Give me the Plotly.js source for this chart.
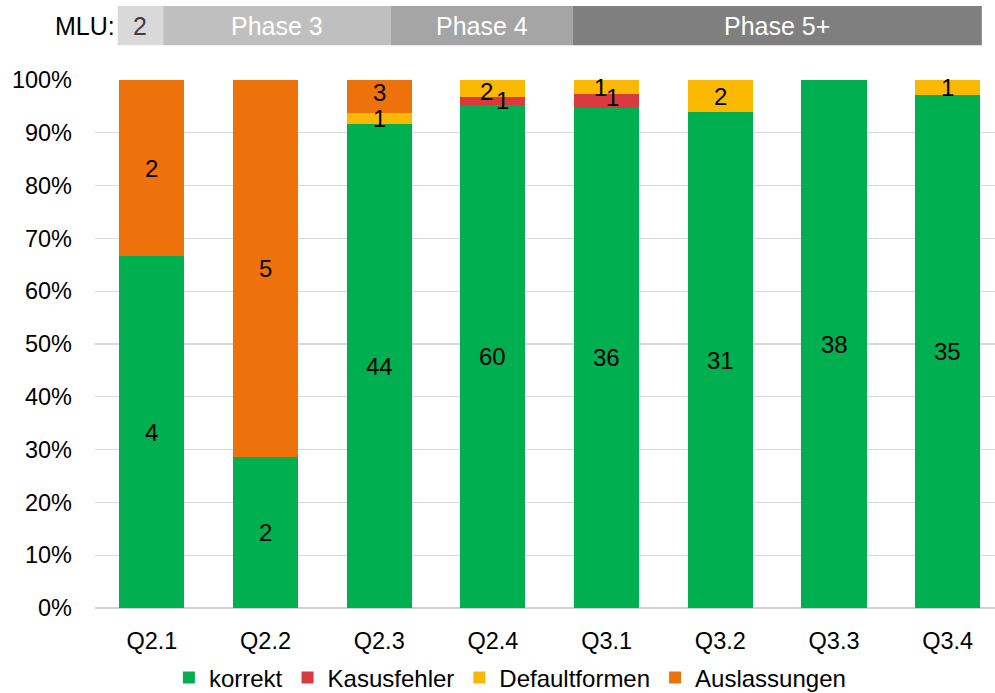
<!DOCTYPE html>
<html>
<head>
<meta charset="utf-8">
<script src="https://cdn.plot.ly/plotly-3.0.1.min.js"></script>
<style>html,body{margin:0;padding:0;background:#fff;}#chart{width:995px;height:693px;}</style>
</head>
<body>
<div id="chart"></div>
<script>
// Data
const categories = ['Q2.1','Q2.2','Q2.3','Q2.4','Q3.1','Q3.2','Q3.3','Q3.4'];
const seriesNames = ['korrekt','Kasusfehler','Defaultformen','Auslassungen'];
const korrekt       = [4, 2, 44, 60, 36, 31, 38, 35];
const kasusfehler   = [0, 0, 0, 1, 1, 0, 0, 0];
const defaultformen = [0, 0, 1, 2, 1, 2, 0, 1];
const auslassungen  = [2, 5, 3, 0, 0, 0, 0, 0];
const yTickVals   = [0, 10, 20, 30, 40, 50, 60, 70, 80, 90, 100];
const yTickLabels = ['0%','10%','20%','30%','40%','50%','60%','70%','80%','90%','100%'];
const phaseLabels = ['2','Phase 3','Phase 4','Phase 5+'];

// Layout / style constants (positions kept separate from data)
const phaseStart  = [-0.3, 0.1, 2.1, 3.7];
const phaseEnd    = [0.1, 2.1, 3.7, 7.3];
const colors = ['#00AF50','#D83A3F','#FBB800','#EE720C'];
const phaseFill = ['#D9D9D9','#BFBFBF','#A5A5A5','#7F7F7F'];
const phaseText = ['#404040','#FFFFFF','#FFFFFF','#FFFFFF'];
// per-series, per-category pixel nudges for crowded labels
const labelShiftX = [
  [0,0,0,0,0,0,0,0],
  [0,0,0,10,6,0,0,0],
  [0,0,0,-6,-6,0,0,0],
  [0,0,0,0,0,0,0,0]
];
const labelShiftY = [
  [0,0,0,0,0,0,0,0],
  [0,0,0,0,3,0,0,0],
  [0,0,0,-3,-1,0,0,0],
  [0,0,4,0,0,0,0,0]
];
const FONT = 'Liberation Sans, Arial, Helvetica, sans-serif';
const FS = 24;

const allSeries = [korrekt, kasusfehler, defaultformen, auslassungen];
const traces = allSeries.map((vals, i) => ({
  type: 'bar',
  name: seriesNames[i],
  x: categories,
  y: vals,
  marker: {color: colors[i], line: {width: 0}},
  hoverinfo: 'skip'
}));

const shapes = phaseLabels.map((l, i) => ({
  type: 'rect', xref: 'x', yref: 'paper',
  x0: phaseStart[i], x1: phaseEnd[i], y0: 1.066, y1: 1.140,
  fillcolor: phaseFill[i], line: {width: 0}, layer: 'above'
}));

const annotations = phaseLabels.map((l, i) => ({
  xref: 'x', yref: 'paper',
  x: (phaseStart[i] + phaseEnd[i]) / 2, y: 1.103,
  text: l, showarrow: false, xanchor: 'center', yanchor: 'middle',
  font: {family: FONT, size: 25, color: phaseText[i]}
}));
annotations.push({
  xref: 'paper', yref: 'paper', x: 0.0245, y: 1.103,
  text: 'MLU:', showarrow: false, xanchor: 'right', yanchor: 'middle',
  font: {family: FONT, size: 25, color: '#000000'}
});

// value labels at the middle of each segment (percent scale, from the data)
categories.forEach((c, j) => {
  const total = allSeries.reduce((s, arr) => s + arr[j], 0);
  let cum = 0;
  allSeries.forEach((arr, i) => {
    const v = arr[j];
    if (v > 0) {
      const mid = (cum + v / 2) / total * 100;
      annotations.push({
        xref: 'x', yref: 'y', x: c, y: mid,
        text: String(v), showarrow: false,
        xanchor: 'center', yanchor: 'middle',
        xshift: labelShiftX[i][j], yshift: labelShiftY[i][j],
        font: {family: FONT, size: FS, color: '#000000'}
      });
    }
    cum += v;
  });
});

const layout = {
  width: 995, height: 693,
  margin: {l: 95, r: 0, t: 80, b: 85, pad: 0, autoexpand: false},
  paper_bgcolor: '#FFFFFF', plot_bgcolor: '#FFFFFF',
  barmode: 'stack', barnorm: 'percent',
  bargap: 0.428,
  font: {family: FONT, size: FS, color: '#000000'},
  showlegend: true,
  legend: {
    orientation: 'h', xref: 'paper', yref: 'paper',
    x: 0.461, xanchor: 'center', y: -0.1326, yanchor: 'middle',
    font: {family: FONT, size: 24, color: '#000000'},
    traceorder: 'normal', itemclick: false, itemdoubleclick: false
  },
  xaxis: {
    type: 'category', range: [-0.5, 7.416],
    showgrid: false, zeroline: false, showline: false,
    ticks: '', ticklabelstandoff: 16,
    tickfont: {family: FONT, size: 23.5, color: '#000000'},
    fixedrange: true
  },
  yaxis: {
    range: [0, 100], tickmode: 'array', tickvals: yTickVals, ticktext: yTickLabels,
    showgrid: true, gridcolor: '#D9D9D9', gridwidth: 1.3,
    zeroline: true, zerolinecolor: '#D0D0D0', zerolinewidth: 1.5,
    showline: false, ticks: '', ticklabelstandoff: 22,
    tickfont: {family: FONT, size: 23.5, color: '#000000'},
    fixedrange: true
  },
  shapes: shapes,
  annotations: annotations
};

Plotly.newPlot('chart', traces, layout, {displayModeBar: false, staticPlot: true});
</script>
</body>
</html>
